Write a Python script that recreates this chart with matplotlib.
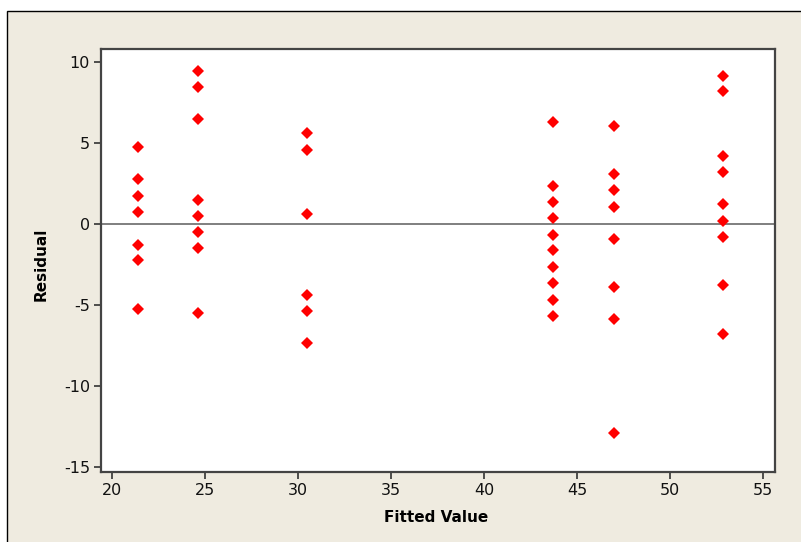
import matplotlib
matplotlib.use('Agg')
import matplotlib.pyplot as plt
from matplotlib.patches import Rectangle

plt.rcParams['axes.unicode_minus'] = False

# fitted values (one group per treatment) and residuals
fit_groups = [21.37, 24.6, 30.48, 43.72, 46.97, 52.84]
res_groups = [
    [4.73, 2.74, 1.71, 0.70, -1.31, -2.26, -5.29],
    [9.43, 8.44, 6.46, 1.46, 0.49, -0.53, -1.48, -5.53],
    [5.62, 4.57, 0.62, -4.40, -5.39, -7.35],
    [6.30, 2.35, 1.32, 0.35, -0.70, -1.62, -2.67, -3.64, -4.69, -5.70],
    [6.03, 3.05, 2.08, 1.05, -0.94, -3.89, -5.88, -12.90],
    [9.14, 8.21, 4.16, 3.19, 1.22, 0.17, -0.80, -3.80, -6.83],
]
x_ticks = [20, 25, 30, 35, 40, 45, 50, 55]
y_ticks = [-15, -10, -5, 0, 5, 10]

fitted = []
resid = []
for f, rs in zip(fit_groups, res_groups):
    fitted += [f] * len(rs)
    resid += rs

bg = '#efebe0'
W, H = 801, 542
fig = plt.figure(figsize=(W/100, H/100), dpi=100)
fig.patch.set_facecolor('white')

# beige panel with black frame on left/top
fig.patches.append(Rectangle((7/W, -0.1), 1.2, (H-11)/H + 0.1,
                             transform=fig.transFigure, facecolor=bg,
                             edgecolor='black', linewidth=1.0, zorder=-10))

ax = fig.add_axes([101/W, (H-472)/H, 674/W, 423/H])
ax.set_zorder(5)
ax.set_facecolor('white')

ax.axhline(0, color='#6a6a6a', lw=1.2, zorder=1)
ax.plot(fitted, resid, linestyle='none', marker='D', ms=6.2,
        color='#ff0000', markeredgewidth=0, zorder=3)

ax.set_xlim(19.39, 55.66)
ax.set_ylim(-15.33, 10.78)
ax.set_xticks(x_ticks)
ax.set_yticks(y_ticks)
ax.tick_params(direction='out', length=5, width=1.2, color='#333333',
               labelsize=11.5, labelcolor='#111111', pad=3)

for sp in ax.spines.values():
    sp.set_color('#444444')
    sp.set_linewidth(1.6)

ax.set_xlabel('Fitted Value', fontsize=11, fontweight='bold')
ax.set_ylabel('Residual', fontsize=11, fontweight='bold')
ax.xaxis.set_label_coords(0.497, -0.09)
ax.yaxis.set_label_coords(-0.077, 0.49)

fig.savefig('out.png', dpi=100, facecolor=fig.get_facecolor())
